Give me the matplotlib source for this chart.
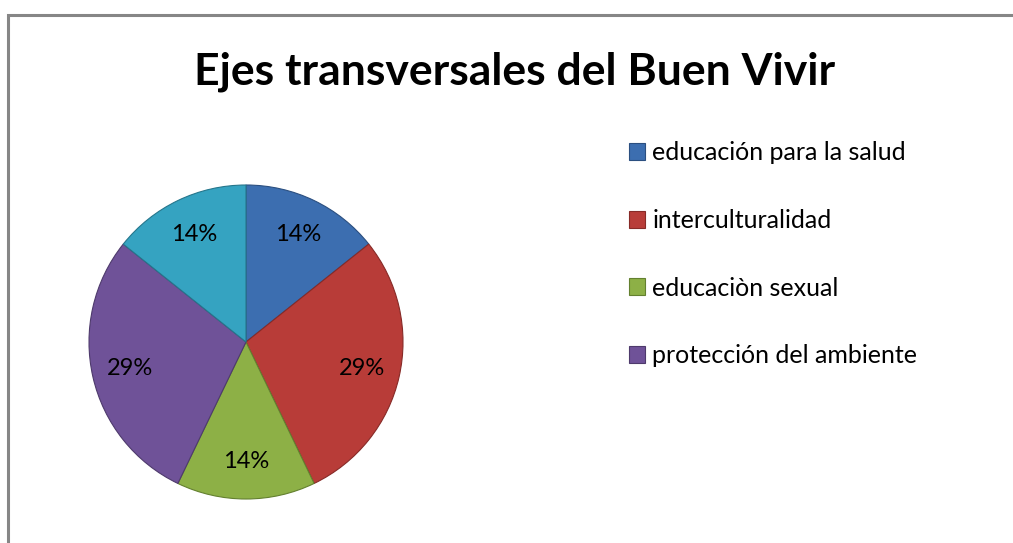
import matplotlib.pyplot as plt
from matplotlib.patches import Rectangle

categorias = ['educación para la salud', 'interculturalidad', 'educaciòn sexual',
              'protección del ambiente', '']
valores = [1, 2, 1, 2, 1]
colores = ['#3C6EB0', '#B83C38', '#8DB046', '#6F5298', '#35A3C1']
bordes = ['#2B4F80', '#872A27', '#63802F', '#4E3A6C', '#25768C']

plt.rcParams['font.family'] = ['Lato', 'DejaVu Sans']

fig = plt.figure(figsize=(10.13, 5.43), dpi=100)

# marco del grafico
fig.patches.append(Rectangle((8 / 1013, -0.1), 1.2, 1 - 15 / 543 + 0.1,
                             transform=fig.transFigure, fill=False,
                             edgecolor='#868686', linewidth=2.2))

fig.text(515 / 1013, 1 - 72 / 543, 'Ejes transversales del Buen Vivir',
         ha='center', va='center', fontsize=32, fontweight='bold')

ax = fig.add_axes([89 / 1013, 44 / 543, 314 / 1013, 314 / 543])
wedges, textos, pcts = ax.pie(valores, colors=colores, startangle=90, counterclock=False,
                              autopct='%1.0f%%', pctdistance=0.76,
                              wedgeprops=dict(linewidth=0.8))
for w, b in zip(wedges, bordes):
    w.set_edgecolor(b)
for t in pcts:
    t.set_fontsize(17)
    t.set_color('black')
ax.set_xlim(-1, 1)
ax.set_ylim(-1, 1)
ax.set_aspect('equal')

leg = fig.legend(wedges[:4], categorias[:4], loc='upper left',
                 bbox_to_anchor=(606 / 1013, 1 - 119 / 543), frameon=False,
                 fontsize=18, labelspacing=1.78, handlelength=0.65, handleheight=0.65,
                 handletextpad=0.3)

fig.savefig('out.png', dpi=100)
